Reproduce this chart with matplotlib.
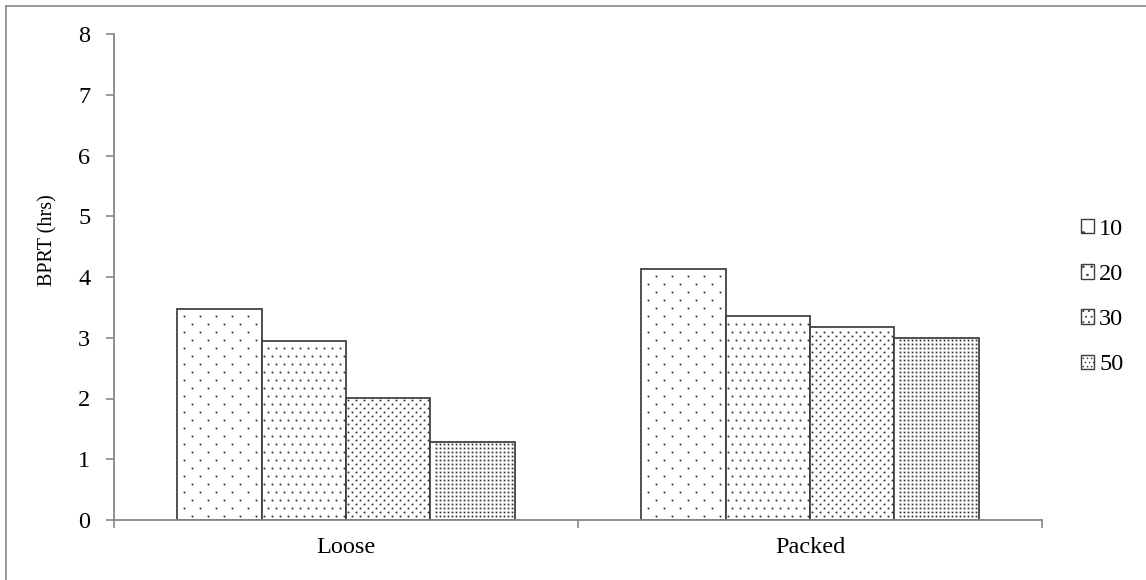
import numpy as np
import matplotlib
matplotlib.use('Agg')
import matplotlib.pyplot as plt
from matplotlib.lines import Line2D
from matplotlib.patches import Patch

plt.rcParams['font.family'] = ['Liberation Serif', 'DejaVu Serif']
plt.rcParams['font.size'] = 17.5
plt.rcParams['hatch.linewidth'] = 0.6

categories = ['Loose', 'Packed']
series_labels = ['10', '20', '30', '50']
values = {
    '10': [3.48, 4.13],
    '20': [2.94, 3.36],
    '30': [2.01, 3.18],
    '50': [1.28, 2.99],
}
# dot pattern per series: (x spacing px, y spacing px, row shift px)
patterns = [(16, 8, 8), (8, 8, 4), (8, 4, 4), (4, 4, 0)]
legend_hatch = ['.', '..', '...', '....']

fig = plt.figure(figsize=(11.46, 5.8), dpi=100)
ax = fig.add_axes([114/1146, 1-520/580, 928/1146, 486/580])

x = np.arange(len(categories))
w = 0.182
axis_grey = '#878787'
edge = '#3c3c3c'

ax.set_xlim(-0.5, 1.5)
ax.set_ylim(0, 8)


def dot_fill(x0, x1, y0, y1, dx, dy, shift):
    # fill a bar area with a dotted pattern laid on a pixel grid
    (px0, py0), (px1, py1) = ax.transData.transform([(x0, y0), (x1, y1)])
    pts = []
    rows = np.arange(np.ceil((py0 + 2) / dy) * dy, py1 - 1.5, dy)
    for r in rows:
        off = shift if int(round(r / dy)) % 2 else 0
        cols = np.arange(np.ceil((px0 + 2 - off) / dx) * dx + off, px1 - 1.5, dx)
        pts += [(c, r) for c in cols]
    if not pts:
        return
    d = ax.transData.inverted().transform(pts)
    ax.plot(d[:, 0], d[:, 1], ls='none', marker='s', ms=1.25, mew=0,
            color='#2a2a2a', zorder=3)


for i, lab in enumerate(series_labels):
    pos = x + (i - 1.5) * w
    ax.bar(pos, values[lab], w, color='white', edgecolor=edge,
           linewidth=1.25, zorder=2)
    for p, v in zip(pos, values[lab]):
        dot_fill(p - w / 2, p + w / 2, 0, v, *patterns[i])

ax.set_yticks(range(0, 9))
ax.set_xticks(x)
ax.set_xticklabels(categories)
ax.set_xticks([-0.5, 0.5, 1.5], minor=True)
ax.tick_params(axis='x', which='major', length=0, pad=12)
ax.tick_params(axis='x', which='minor', length=6, width=1.2, color=axis_grey, direction='out')
ax.tick_params(axis='y', length=6, width=1.2, color=axis_grey, direction='out', pad=11)

for s in ['top', 'right']:
    ax.spines[s].set_visible(False)
for s in ['left', 'bottom']:
    ax.spines[s].set_color(axis_grey)
    ax.spines[s].set_linewidth(1.3)

ax.set_ylabel('BPRT (hrs)', fontsize=14.5)
ax.yaxis.set_label_coords(-0.0614, 0.576)

handles = [Patch(facecolor='white', edgecolor=edge, hatch=h, linewidth=1.0)
           for h in legend_hatch]
fig.legend(handles=handles, labels=series_labels, loc='center left',
           bbox_to_anchor=(1081/1146, 1-297/580), frameon=False,
           handlelength=0.55, handleheight=0.55, handletextpad=0.2,
           labelspacing=1.0, borderaxespad=0, borderpad=0)

# chart area border
fig.add_artist(Line2D([6/1146, 6/1146], [0, 1-6/580], color=axis_grey, lw=1.2,
                      transform=fig.transFigure))
fig.add_artist(Line2D([6/1146, 1], [1-6/580, 1-6/580], color=axis_grey, lw=1.2,
                      transform=fig.transFigure))

fig.savefig('out.png', dpi=100)
